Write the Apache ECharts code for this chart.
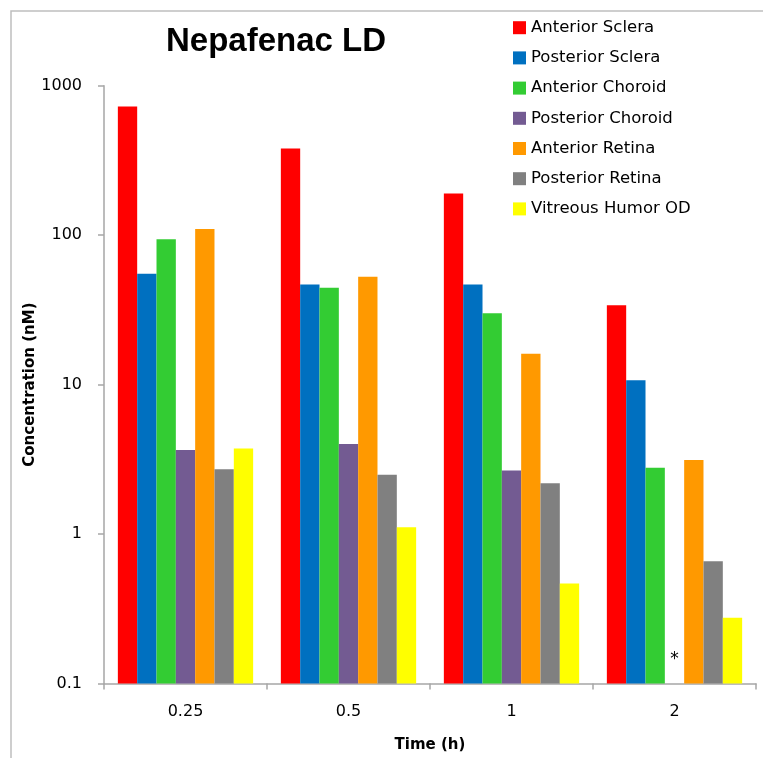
<!DOCTYPE html>
<html>
<head>
<meta charset="utf-8">
<script src="https://cdn.jsdelivr.net/npm/echarts@6/dist/echarts.min.js"></script>
<style>html,body{margin:0;padding:0;background:#fff}#c{width:763px;height:758px}</style>
</head>
<body>
<div id="c"></div>
<script>
const categories = ['0.25', '0.5', '1', '2'];
const seriesNames = ['Anterior Sclera', 'Posterior Sclera', 'Anterior Choroid', 'Posterior Choroid', 'Anterior Retina', 'Posterior Retina', 'Vitreous Humor OD'];
const anteriorSclera = [726, 380, 190, 34.0];
const posteriorSclera = [55.1, 46.7, 46.7, 10.7];
const anteriorChoroid = [94, 44.4, 30.0, 2.78];
const posteriorChoroid = [3.65, 4.01, 2.66, null];
const anteriorRetina = [110, 52.6, 16.1, 3.13];
const posteriorRetina = [2.71, 2.49, 2.19, 0.658];
const vitreousHumor = [3.73, 1.11, 0.466, 0.275];
const yTicks = ['0.1', '1', '10', '100', '1000'];
const asteriskAt = { category: '2', value: 0.145 };
const colors = ['#FF0000', '#0070C0', '#33CC33', '#735B92', '#FF9900', '#808080', '#FFFF00'];
const allData = [anteriorSclera, posteriorSclera, anteriorChoroid, posteriorChoroid, anteriorRetina, posteriorRetina, vitreousHumor];

// Log-decade scale: axis position = log10(value) - log10(0.1), so bars rise from the 0.1 baseline
const AXIS_MIN_LOG = -1;
const toAxis = v => (v == null ? null : Math.log10(v) - AXIS_MIN_LOG);

const font = '"DejaVu Sans", "Liberation Sans", sans-serif';
const titleFont = '"Liberation Sans", Arial, sans-serif';
const chart = echarts.init(document.getElementById('c'));

const series = seriesNames.map((name, i) => {
  const s = {
    name: name,
    type: 'bar',
    data: allData[i].map(toAxis),
    barGap: '0%',
    barCategoryGap: '17%',
    itemStyle: { color: colors[i] },
    animation: false
  };
  if (i === 3) {
    s.markPoint = {
      symbol: 'circle',
      symbolSize: 0,
      data: [{ coord: [asteriskAt.category, toAxis(asteriskAt.value)],
        label: { show: true, formatter: '*', fontSize: 17, color: '#000', fontFamily: font, position: 'inside' } }],
      animation: false
    };
  }
  return s;
});

chart.setOption({
  animation: false,
  color: colors,
  title: {
    text: 'Nepafenac LD',
    left: 271, top: 20, textAlign: 'center',
    textStyle: { fontSize: 33, fontWeight: 'bold', color: '#000', fontFamily: titleFont }
  },
  legend: {
    orient: 'vertical',
    left: 513, top: 19.2, padding: 0,
    itemWidth: 13, itemHeight: 13, itemGap: 13.2,
    icon: 'rect',
    textStyle: { fontSize: 16.5, color: '#000', fontFamily: font },
    data: seriesNames
  },
  graphic: [{
    type: 'rect', shape: { x: 11, y: 11, width: 900, height: 900 },
    style: { fill: 'none', stroke: '#BEBEBE', lineWidth: 1.5 }, silent: true, z: -1
  }],
  grid: { left: 104, right: 7, top: 85.7, bottom: 74.5, containLabel: false },
  xAxis: {
    type: 'category',
    data: categories,
    name: 'Time (h)', nameLocation: 'middle', nameGap: 54, nameMoveOverlap: false,
    nameTextStyle: { fontSize: 15, fontWeight: 'bold', color: '#000', fontFamily: font },
    axisLine: { lineStyle: { color: '#A6A6A6', width: 1.5 } },
    axisTick: { show: true, length: 6, lineStyle: { color: '#A6A6A6', width: 1.5 } },
    axisLabel: { fontSize: 16, color: '#000', margin: 20, fontFamily: font }
  },
  yAxis: {
    type: 'value', min: 0, max: yTicks.length - 1, interval: 1,
    name: 'Concentration (nM)', nameLocation: 'middle', nameGap: 66, nameRotate: 90, nameMoveOverlap: false,
    nameTextStyle: { fontSize: 15, fontWeight: 'bold', color: '#000', fontFamily: font },
    axisLine: { show: true, lineStyle: { color: '#A6A6A6', width: 1.5 } },
    axisTick: { show: true, length: 6, lineStyle: { color: '#A6A6A6', width: 1.5 } },
    splitLine: { show: false },
    axisLabel: { fontSize: 16, color: '#000', margin: 22, fontFamily: font,
      formatter: v => yTicks[Math.round(v)] }
  },
  series: series
});
</script>
</body>
</html>
